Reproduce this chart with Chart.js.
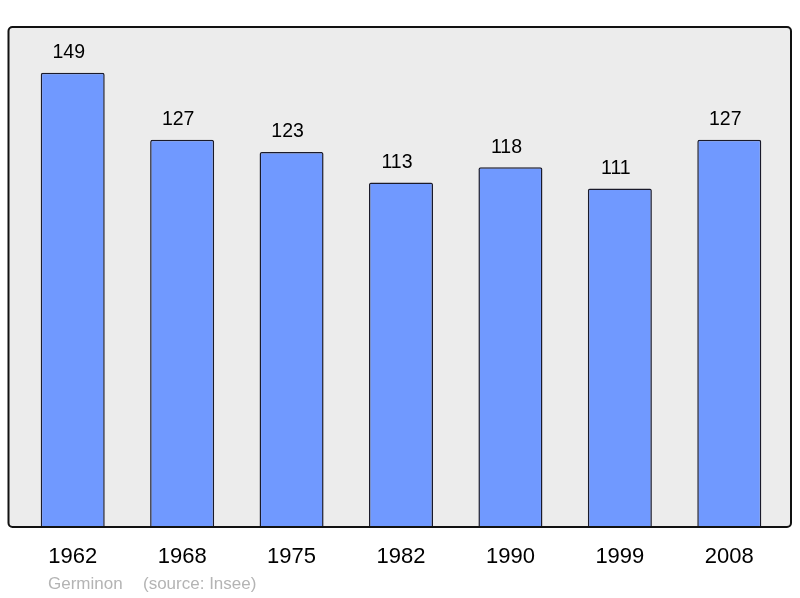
<!DOCTYPE html>
<html>
<head>
<meta charset="utf-8">
<script src="https://cdn.jsdelivr.net/npm/chart.js@4"></script>
<style>
  html, body { margin: 0; padding: 0; background: #fff; }
  #wrap { width: 800px; height: 598px; position: relative; }
</style>
</head>
<body>
<div id="wrap"><canvas id="popChart" width="800" height="598"></canvas></div>
<script>
// Population de Germinon (source : Insee)
const years = ['1962', '1968', '1975', '1982', '1990', '1999', '2008'];
const population = [149, 127, 123, 113, 118, 111, 127];
const yMax = 164;

// fond gris arrondi derrière les barres
const boxPlugin = {
    id: 'box',
    beforeDraw(chart) {
        const a = chart.chartArea;
        const ctx = chart.ctx;
        const x0 = a.left - 9.5, x1 = a.right + 7, y0 = a.top, y1 = a.bottom;
        ctx.save();
        ctx.beginPath();
        ctx.roundRect(x0, y0, x1 - x0, y1 - y0, 4);
        ctx.fillStyle = '#ececec';
        ctx.fill();
        ctx.restore();
    },
    afterDatasetsDraw(chart) {
        const a = chart.chartArea;
        const ctx = chart.ctx;
        const x0 = a.left - 9.5, x1 = a.right + 7, y0 = a.top, y1 = a.bottom;
        ctx.save();
        ctx.beginPath();
        ctx.roundRect(x0, y0, x1 - x0, y1 - y0, 4);
        ctx.lineWidth = 2;
        ctx.strokeStyle = '#111';
        ctx.stroke();

        // valeurs au-dessus des barres
        ctx.font = '19.5px "Liberation Sans", Arial, sans-serif';
        ctx.fillStyle = '#000';
        ctx.textAlign = 'center';
        ctx.textBaseline = 'middle';
        chart.getDatasetMeta(0).data.forEach((bar, i) => {
            ctx.fillText(String(population[i]), bar.x - 4, bar.y - 20);
        });

        // pied de page
        ctx.font = '17px "Liberation Sans", Arial, sans-serif';
        ctx.fillStyle = '#b4b4b4';
        ctx.textAlign = 'left';
        ctx.fillText('Germinon', 48, 584);
        ctx.fillText('(source: Insee)', 143, 584);
        ctx.restore();
    }
};

new Chart(document.getElementById('popChart').getContext('2d'), {
    type: 'bar',
    data: {
        labels: years,
        datasets: [{
            data: population,
            backgroundColor: '#7099ff',
            borderColor: '#1a1a2a',
            borderWidth: 1.5,
            borderRadius: 2,
            barPercentage: 0.585,
            categoryPercentage: 1
        }]
    },
    options: {
        responsive: false,
        animation: false,
        layout: { padding: { left: 18, right: 16, top: 27, bottom: 10.6 } },
        plugins: { legend: { display: false }, tooltip: { enabled: false } },
        scales: {
            x: {
                grid: { display: false, drawTicks: false },
                border: { display: false },
                ticks: {
                    color: '#000',
                    padding: 17,
                    font: { size: 22, family: '"Liberation Sans", Arial, sans-serif' }
                }
            },
            y: {
                display: false,
                min: 0,
                max: yMax
            }
        }
    },
    plugins: [boxPlugin]
});
</script>
</body>
</html>
